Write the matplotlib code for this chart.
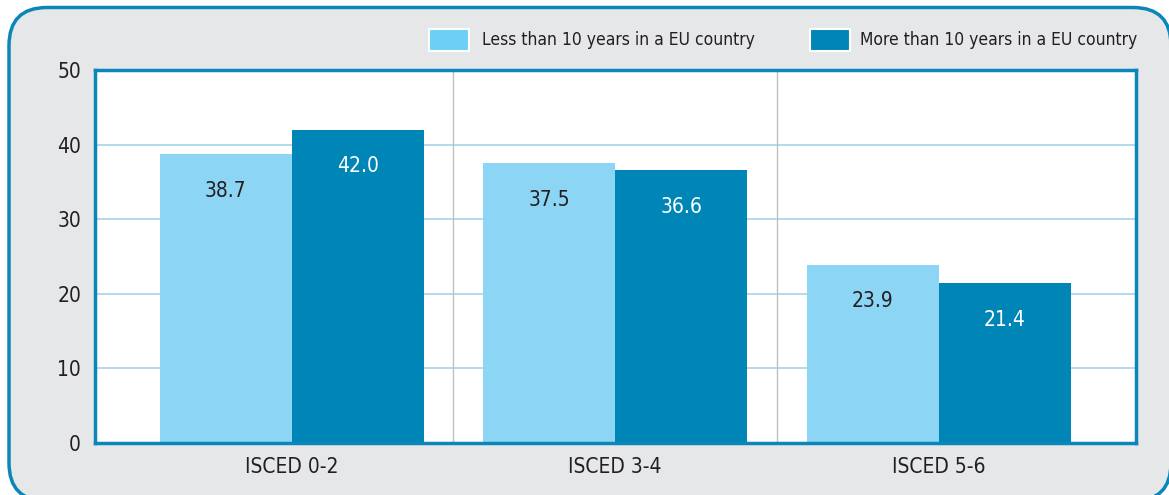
import matplotlib
matplotlib.use("Agg")
import matplotlib.pyplot as plt
import numpy as np
from matplotlib import font_manager
from matplotlib.patches import FancyBboxPatch, Rectangle

# data
categories = ["ISCED 0-2", "ISCED 3-4", "ISCED 5-6"]
less_10 = [38.7, 37.5, 23.9]
more_10 = [42.0, 36.6, 21.4]
series_names = ["Less than 10 years in a EU country", "More than 10 years in a EU country"]
y_ticks = [0, 10, 20, 30, 40, 50]

LIGHT = "#8dd5f5"
LIGHT_LEG = "#6dcff6"
DARK = "#0085b7"
FRAME = "#0a86b8"
BG = "#e6e7e9"
GRID = "#a5d3e8"
TXT = "#231f20"

W, H = 1169, 495

# pick a narrow face if one is installed
installed = {(f.name, f.stretch) for f in font_manager.fontManager.ttflist}
names = {n for n, _ in installed}
STRETCH = "normal"
if "Liberation Sans Narrow" in names:
    FAMILY = "Liberation Sans Narrow"
elif any(n == "DejaVu Sans" and s in ("condensed", 300) for n, s in installed):
    FAMILY, STRETCH = "DejaVu Sans", "condensed"
else:
    FAMILY = "Liberation Sans"
plt.rcParams["font.family"] = [FAMILY, "DejaVu Sans"]
plt.rcParams["font.stretch"] = STRETCH

fig = plt.figure(figsize=(W / 100, H / 100), dpi=100)
fig.patch.set_facecolor("white")


def fx(px):
    return px / W


def fy(py):
    return 1 - py / H


# rounded grey frame (inches, so the corner stays round)
frame = FancyBboxPatch((9 / 100, -0.06), (1171 - 9) / 100, (H - 7.5) / 100 + 0.06,
                       boxstyle="round,pad=0,rounding_size=0.38",
                       transform=fig.dpi_scale_trans, facecolor=BG,
                       edgecolor=FRAME, linewidth=2.5, zorder=-5)
fig.patches.append(frame)

ax = fig.add_axes([fx(95), fy(443), fx(1136 - 95), fy(70) - fy(443)])
ax.set_zorder(2)
ax.set_facecolor("white")

x = np.arange(len(categories))
w = 0.408
ax.bar(x - w / 2, less_10, w, color=LIGHT, zorder=3)
ax.bar(x + w / 2, more_10, w, color=DARK, zorder=3)

for i in range(len(categories)):
    ax.text(x[i] - w / 2, less_10[i] - 4.9, f"{less_10[i]:.1f}", ha="center",
            va="center", fontsize=15, color=TXT, zorder=4)
    ax.text(x[i] + w / 2, more_10[i] - 4.9, f"{more_10[i]:.1f}", ha="center",
            va="center", fontsize=15, color="white", zorder=4)

ax.set_xlim(-0.608, 2.61)
ax.set_ylim(0, 50)
ax.set_yticks(y_ticks)
ax.set_xticks(x)
ax.set_xticklabels(categories)
ax.tick_params(axis="both", length=0, labelsize=15, colors=TXT)
ax.tick_params(axis="y", pad=10)
ax.tick_params(axis="x", pad=10)

for t in y_ticks[1:-1]:
    ax.axhline(t, color=GRID, linewidth=1.2, zorder=1)
for sep in [0.5, 1.5]:
    ax.axvline(sep, color="#c0c0c0", linewidth=1.0, zorder=1)

for s in ax.spines.values():
    s.set_color(FRAME)
    s.set_linewidth(2.5)
    s.set_zorder(5)

# legend drawn in figure space
leg_items = [(429, LIGHT_LEG, 482, series_names[0]),
             (810, DARK, 860, series_names[1])]
for px0, col, tx, label in leg_items:
    fig.patches.append(Rectangle((fx(px0), fy(51)), fx(40), fy(29) - fy(51),
                                 transform=fig.transFigure, facecolor=col,
                                 edgecolor="white", linewidth=1.5))
    fig.text(fx(tx), fy(40), label, ha="left", va="center", fontsize=12.5,
             color=TXT)

fig.savefig("out.png", dpi=100)
